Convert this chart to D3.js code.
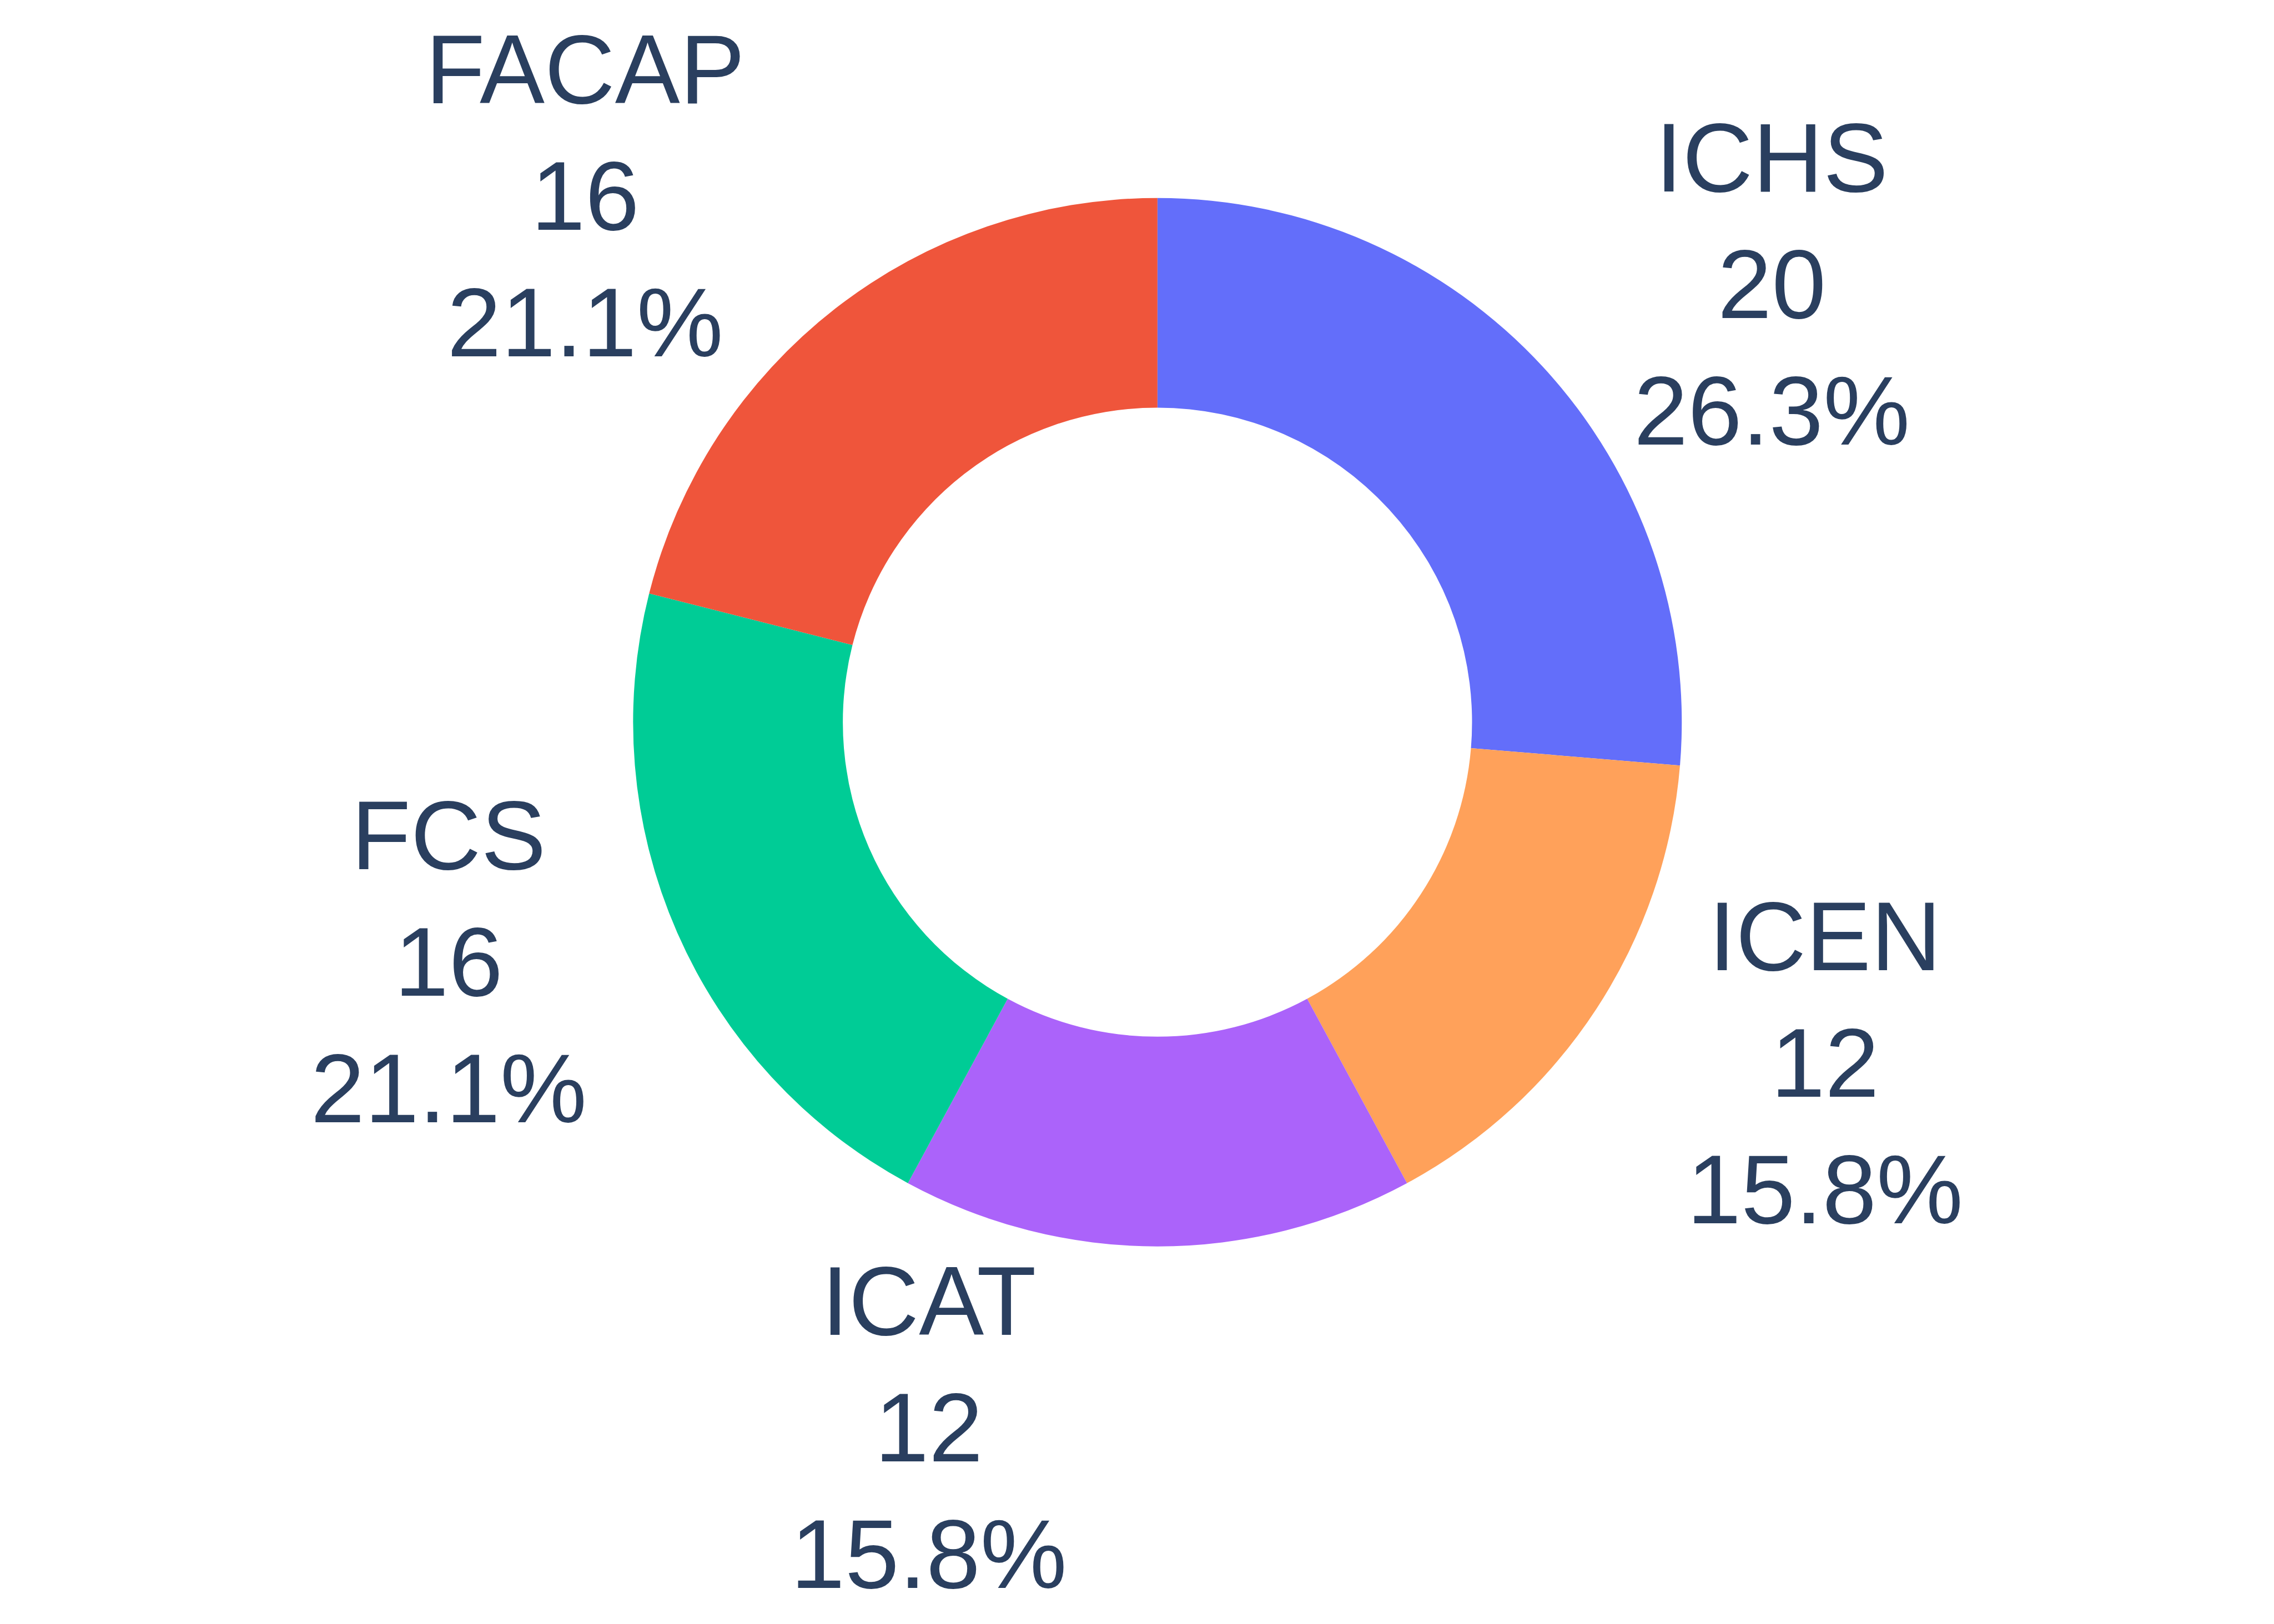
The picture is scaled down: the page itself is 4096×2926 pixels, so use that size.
<!DOCTYPE html>
<html>
<head>
<meta charset="utf-8">
<script src="https://cdn.jsdelivr.net/npm/d3@7"></script>
<style>
  html, body { margin: 0; padding: 0; background: #ffffff; }
  svg { display: block; }
</style>
</head>
<body>
<svg id="chart" width="4096" height="2926"></svg>
<script>
// ---- data ----
const categories = ["ICHS", "ICEN", "ICAT", "FCS", "FACAP"];
const values = [20, 12, 12, 16, 16];
const colors = ["#636efa", "#FFA15A", "#ab63fa", "#00cc96", "#EF553B"];

// ---- layout (reference size * 0.731) ----
const S = 0.731;
const W = 4096, H = 2926;
const cx = 2852 * S, cy = 1780 * S;
const outerR = 1292 * S;
const innerR = outerR * 0.6;
const fontSize = 240 * S;
const lineH = 1.3 * fontSize;
const textColor = "#2a3f5f";

const svg = d3.select("#chart");
svg.append("rect").attr("width", W).attr("height", H).attr("fill", "#ffffff");

const total = d3.sum(values);
const data = categories.map((c, i) => ({ name: c, value: values[i], color: colors[i] }));

const pie = d3.pie().sort(null).value(d => d.value).startAngle(0).endAngle(2 * Math.PI);
const arcs = pie(data);
const arc = d3.arc().innerRadius(innerR).outerRadius(outerR);

const g = svg.append("g").attr("transform", `translate(${cx},${cy})`);
g.selectAll("path.slice")
  .data(arcs)
  .join("path")
  .attr("class", "slice")
  .attr("d", arc)
  .attr("fill", d => d.data.color)
  .attr("stroke", "none");

// ---- outside labels (plotly-like placement) ----
const fmtPct = v => (v / total * 100).toFixed(1) + "%";
arcs.forEach(a => {
  const mid = (a.startAngle + a.endAngle) / 2;
  const px = outerR * Math.sin(mid);
  const py = -outerR * Math.cos(mid);
  const t = g.append("text")
    .attr("text-anchor", "middle")
    .attr("fill", textColor)
    .style("font-family", "'Liberation Sans', Arial, sans-serif")
    .style("font-size", fontSize + "px");
  const lines = [a.data.name, String(a.data.value), fmtPct(a.data.value)];
  lines.forEach((ln, i) => {
    t.append("tspan").attr("x", 0).attr("y", i * lineH).text(ln);
  });
  const bb = t.node().getBBox();
  let dx = bb.width / 2, dy = bb.height / 2;
  if (px < 1e-6) dx *= -1;
  if (py < 0) dy *= -1;
  const tx = dx + Math.abs(dy) * (dx > 0 ? 1 : -1) / 2;
  const ty = dy / (1 + (px * px) / (py * py));
  const targetX = px + tx, targetY = py + ty;
  const bcx = bb.x + bb.width / 2, bcy = bb.y + bb.height / 2;
  t.attr("transform", `translate(${targetX - bcx},${targetY - bcy})`);
});
</script>
</body>
</html>
